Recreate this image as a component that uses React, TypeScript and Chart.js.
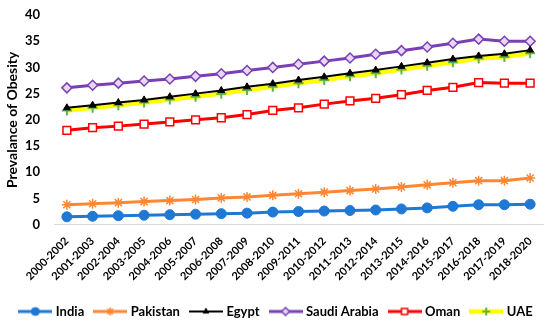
import React, { useEffect, useRef } from "react";
import { Chart, registerables } from "chart.js";
import { drawPoint } from "chart.js/helpers";

Chart.register(...registerables);

const categories = [
  "2000-2002", "2001-2003", "2002-2004", "2003-2005", "2004-2006", "2005-2007",
  "2006-2008", "2007-2009", "2008-2010", "2009-2011", "2010-2012", "2011-2013",
  "2012-2014", "2013-2015", "2014-2016", "2015-2017", "2016-2018", "2017-2019", "2018-2020",
];

const india = [1.5, 1.6, 1.7, 1.8, 1.9, 2.0, 2.1, 2.2, 2.4, 2.5, 2.6, 2.7, 2.8, 3.0, 3.2, 3.5, 3.8, 3.8, 3.9];
const pakistan = [3.8, 4.0, 4.2, 4.4, 4.6, 4.8, 5.1, 5.3, 5.6, 5.9, 6.2, 6.5, 6.8, 7.2, 7.6, 8.0, 8.4, 8.4, 8.9];
const egypt = [22.3, 22.8, 23.3, 23.8, 24.4, 25.0, 25.6, 26.3, 26.9, 27.6, 28.2, 28.9, 29.5, 30.2, 30.9, 31.6, 32.2, 32.6, 33.3];
const saudiArabia = [26.1, 26.6, 27.0, 27.4, 27.8, 28.3, 28.8, 29.4, 30.0, 30.6, 31.2, 31.8, 32.5, 33.2, 33.9, 34.6, 35.4, 35.0, 35.0];
const oman = [18.0, 18.5, 18.8, 19.2, 19.6, 20.0, 20.4, 21.0, 21.8, 22.3, 23.0, 23.6, 24.1, 24.8, 25.6, 26.2, 27.1, 27.0, 27.0];
const uae = [21.8, 22.3, 22.8, 23.3, 23.9, 24.4, 25.0, 25.7, 26.3, 27.0, 27.6, 28.3, 28.9, 29.6, 30.3, 31.0, 31.7, 32.0, 32.7];

const yTicks = { min: 0, max: 40, step: 5 };

const FONT = "Lato, 'Liberation Sans', sans-serif";

type SeriesStyle = {
  label: string;
  data: number[];
  line: string;
  width: number;
  point: string;
  radius: number;
  pBorder: string;
  pFill: string;
  pWidth: number;
};

const series: SeriesStyle[] = [
  { label: "India", data: india, line: "#1f78d4", width: 3, point: "circle", radius: 5, pBorder: "#1f78d4", pFill: "#1f78d4", pWidth: 1 },
  { label: "Pakistan", data: pakistan, line: "#ff8633", width: 3, point: "star", radius: 5, pBorder: "#ff8633", pFill: "#ff8633", pWidth: 1.5 },
  { label: "Egypt", data: egypt, line: "#000000", width: 2, point: "triangle", radius: 4, pBorder: "#000000", pFill: "#000000", pWidth: 1 },
  { label: "Saudi Arabia", data: saudiArabia, line: "#7b3fb5", width: 3, point: "rectRot", radius: 5, pBorder: "#7b3fb5", pFill: "#e6d8f2", pWidth: 1.5 },
  { label: "Oman", data: oman, line: "#ff0000", width: 3, point: "rect", radius: 5.5, pBorder: "#ff0000", pFill: "#ffffff", pWidth: 1.5 },
  { label: "UAE", data: uae, line: "#ffff00", width: 4.5, point: "cross", radius: 5, pBorder: "#5fb24a", pFill: "#5fb24a", pWidth: 2 },
];

function legendIcon(s: SeriesStyle): HTMLCanvasElement {
  const c = document.createElement("canvas");
  c.width = 34;
  c.height = 14;
  const ctx = c.getContext("2d")!;
  ctx.strokeStyle = s.line;
  ctx.lineWidth = s.width;
  ctx.beginPath();
  ctx.moveTo(0, 7);
  ctx.lineTo(34, 7);
  ctx.stroke();
  ctx.strokeStyle = s.pBorder;
  ctx.fillStyle = s.pFill;
  ctx.lineWidth = s.pWidth;
  drawPoint(ctx, { pointStyle: s.point, radius: s.radius * 0.8, rotation: 0, borderWidth: s.pWidth } as any, 17, 7);
  return c;
}

export default function App() {
  const ref = useRef<HTMLCanvasElement>(null);
  useEffect(() => {
    document.body.style.margin = "0";
    const icons = series.map(legendIcon);
    const chart = new Chart(ref.current!, {
      type: "line",
      data: {
        labels: categories,
        datasets: series.map((s) => ({
          label: s.label,
          data: s.data,
          borderColor: s.line,
          backgroundColor: s.line,
          borderWidth: s.width,
          pointStyle: s.point as any,
          pointRadius: s.radius,
          pointBorderColor: s.pBorder,
          pointBackgroundColor: s.pFill,
          pointBorderWidth: s.pWidth,
          tension: 0,
          fill: false,
        })),
      },
      options: {
        animation: false,
        responsive: false,
        layout: { padding: { top: 15, right: 0, left: 4, bottom: 0 } },
        plugins: {
          tooltip: { enabled: false },
          legend: {
            position: "bottom",
            labels: {
              usePointStyle: true,
              pointStyleWidth: 28,
              padding: 12,
              color: "#000",
              font: { family: FONT, size: 13, weight: "bold" },
              generateLabels: (ch: any) =>
                ch.data.datasets.map((d: any, i: number) => ({
                  text: d.label,
                  pointStyle: icons[i],
                  datasetIndex: i,
                  hidden: false,
                  fillStyle: d.borderColor,
                  strokeStyle: d.borderColor,
                  lineWidth: 0,
                  fontColor: "#000",
                })),
            },
          },
        },
        scales: {
          x: {
            offset: true,
            grid: { display: false, drawTicks: false },
            border: { display: true, color: "#d9d9d9", width: 1 },
            afterFit: (scale: any) => {
              scale.paddingLeft = 0;
              scale.paddingRight = 0;
            },
            ticks: {
              color: "#000",
              maxRotation: 45,
              minRotation: 45,
              autoSkip: false,
              padding: 10,
              font: { family: FONT, size: 11, weight: "bold" },
            },
          },
          y: {
            min: yTicks.min,
            max: yTicks.max,
            grid: { display: false, drawTicks: false },
            border: { display: false },
            afterFit: (scale: any) => {
              scale.width = 50;
              scale.paddingTop = 0;
              scale.paddingBottom = 0;
            },
            ticks: {
              stepSize: yTicks.step,
              color: "#000",
              padding: 14,
              font: { family: FONT, size: 13, weight: "bold" },
            },
            title: {
              display: true,
              text: "Prevalance of Obesity",
              color: "#000",
              padding: { top: 0, bottom: 6 },
              font: { family: FONT, size: 14, weight: "bold" },
            },
          },
        },
      },
    });
    return () => chart.destroy();
  }, []);
  return <canvas ref={ref} width={550} height={328} style={{ display: "block" }} />;
}
